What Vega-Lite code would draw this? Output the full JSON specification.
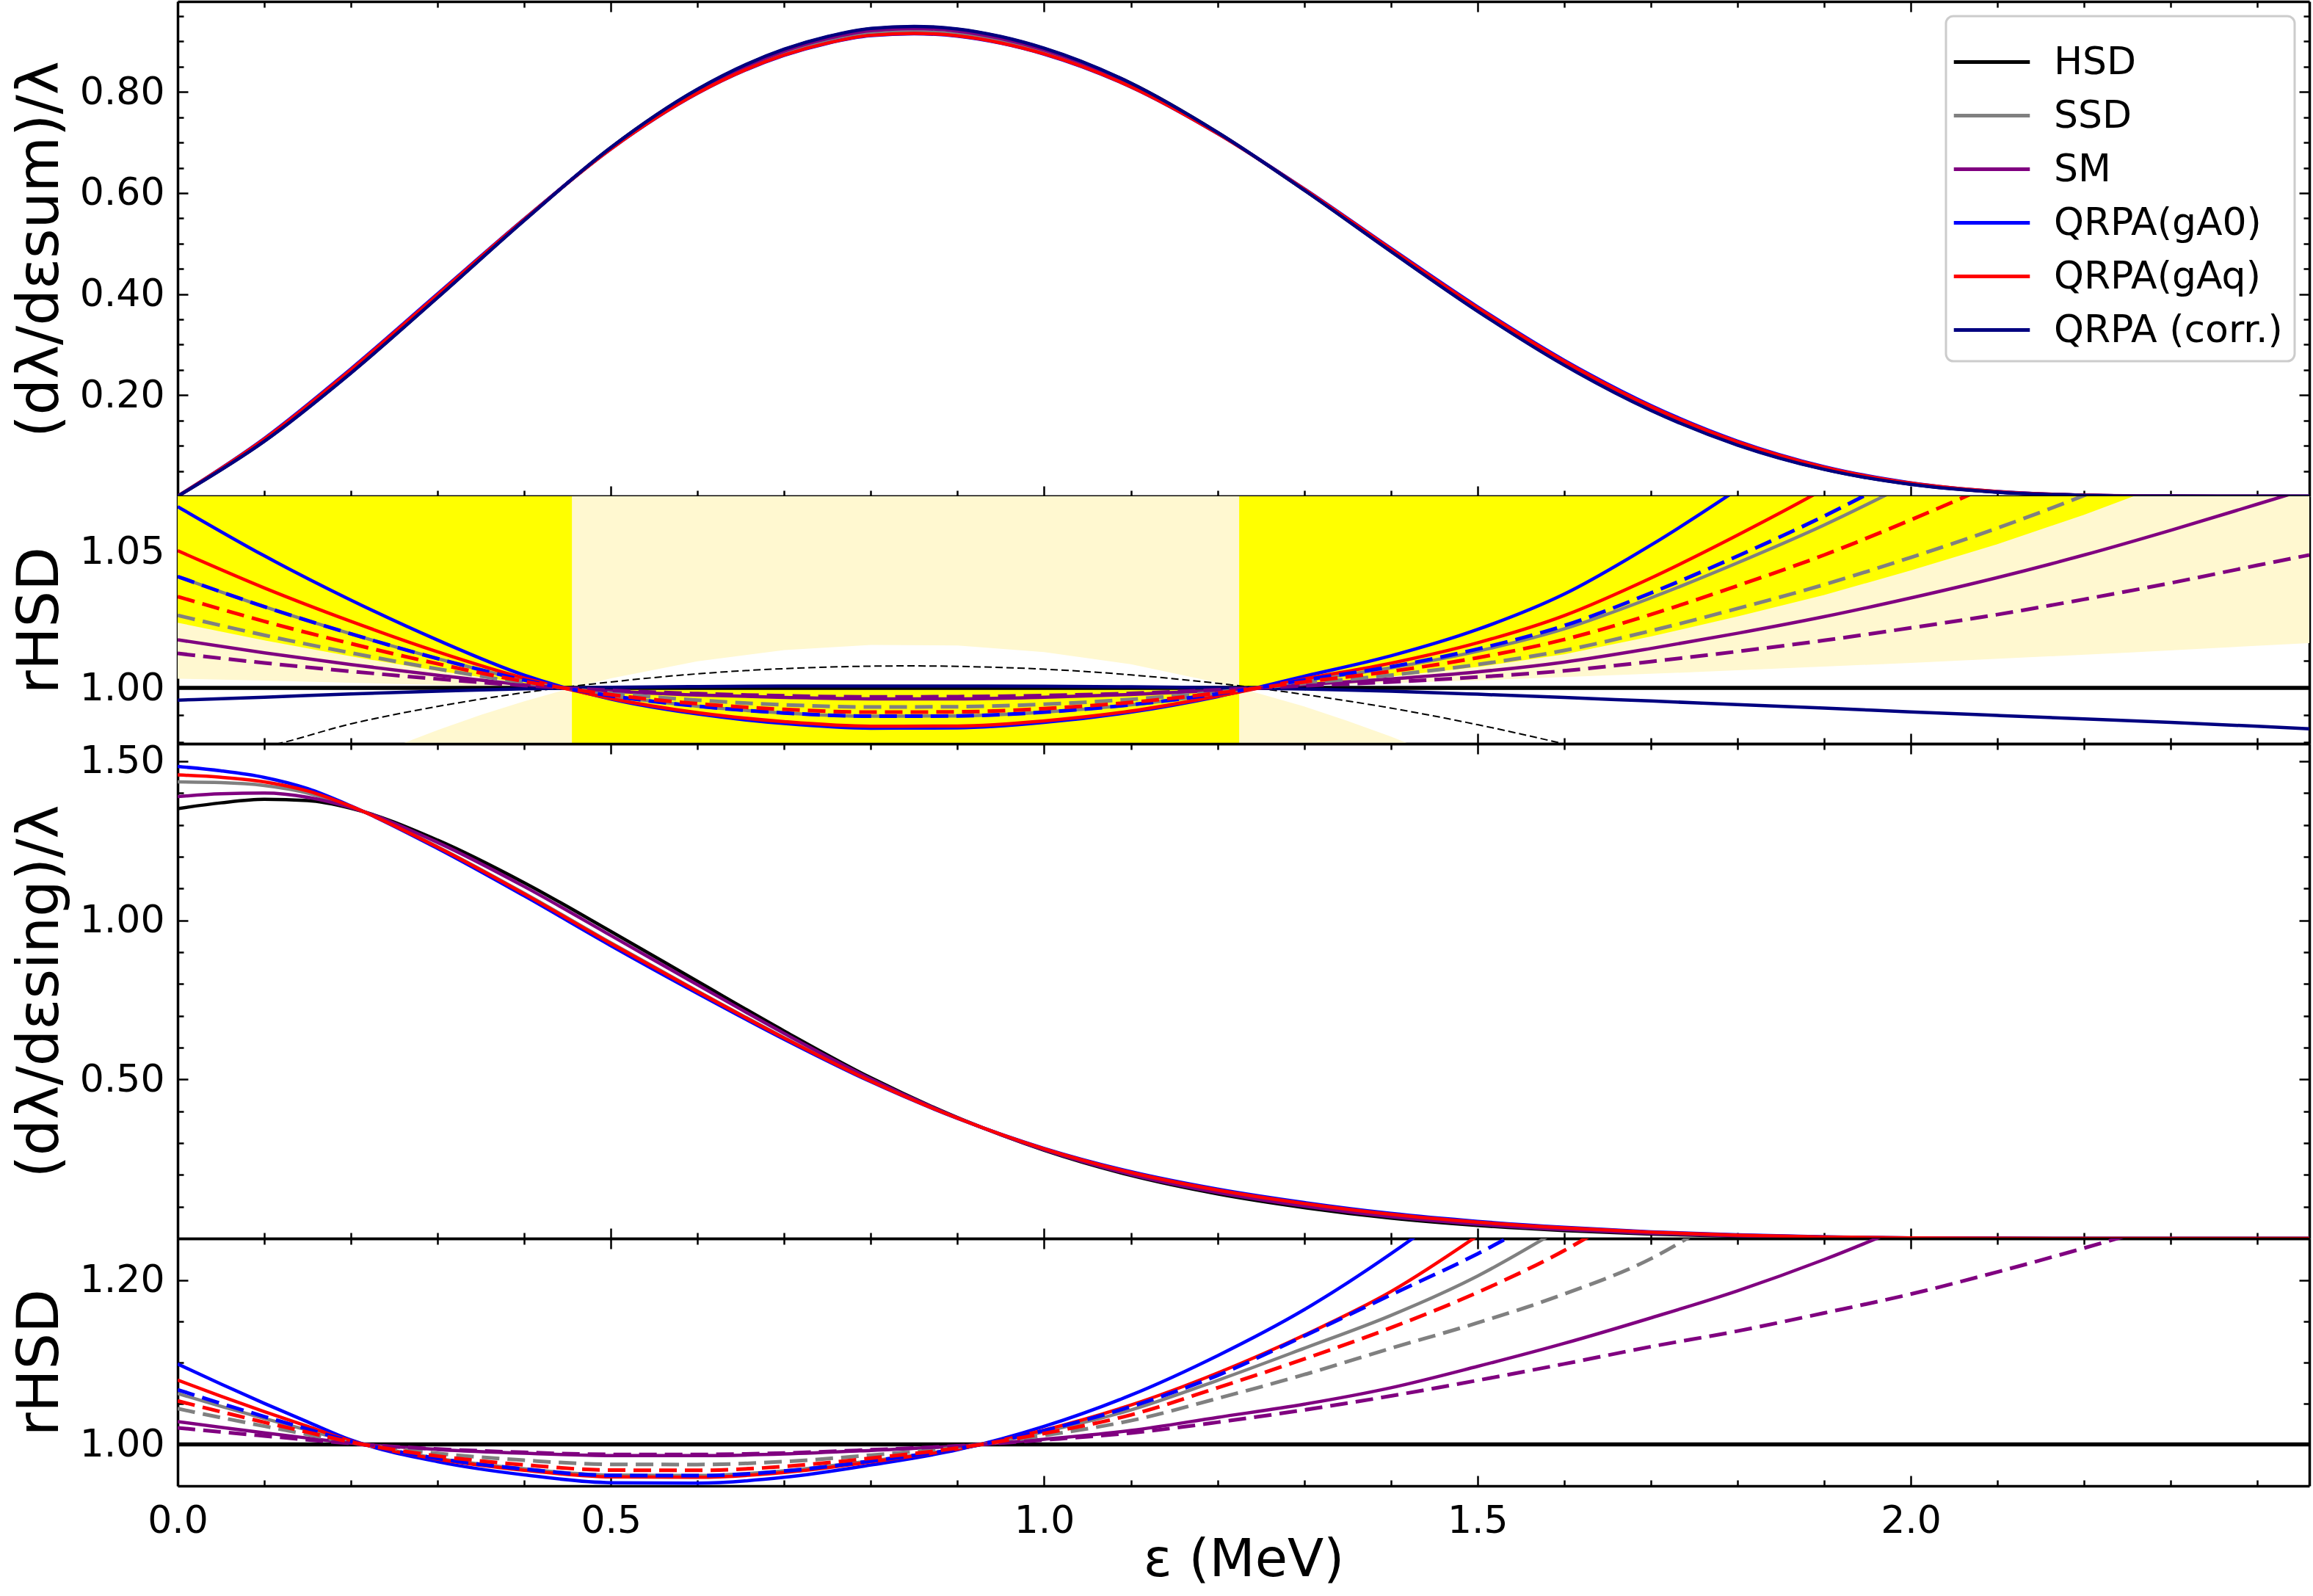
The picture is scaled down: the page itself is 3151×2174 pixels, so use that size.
{
  "$schema": "https://vega.github.io/schema/vega-lite/v6.json",
  "padding": {"left": 16, "top": 0, "right": 2, "bottom": 0},
  "background": "white",
  "datasets": {
    "sum": [
      {"x": 0, "HSD": 0, "SSD": 0, "SM": 0, "gA0": 0, "gAq": 0, "corr": 0},
      {"x": 0.1, "HSD": 0.1091, "SSD": 0.1124, "SM": 0.1105, "gA0": 0.1144, "gAq": 0.1131, "corr": 0.1087},
      {"x": 0.2, "HSD": 0.2443, "SSD": 0.2492, "SM": 0.2464, "gA0": 0.2522, "gAq": 0.2503, "corr": 0.2438},
      {"x": 0.3, "HSD": 0.3936, "SSD": 0.3979, "SM": 0.3954, "gA0": 0.4005, "gAq": 0.3988, "corr": 0.3931},
      {"x": 0.4, "HSD": 0.546, "SSD": 0.5476, "SM": 0.5467, "gA0": 0.5486, "gAq": 0.548, "corr": 0.5458},
      {"x": 0.5, "HSD": 0.69, "SSD": 0.688, "SM": 0.6892, "gA0": 0.6872, "gAq": 0.6873, "corr": 0.6901},
      {"x": 0.6, "HSD": 0.805, "SSD": 0.7996, "SM": 0.8029, "gA0": 0.7973, "gAq": 0.7977, "corr": 0.8054},
      {"x": 0.7, "HSD": 0.884, "SSD": 0.8759, "SM": 0.8809, "gA0": 0.8724, "gAq": 0.873, "corr": 0.8846},
      {"x": 0.75, "HSD": 0.909, "SSD": 0.9, "SM": 0.9055, "gA0": 0.8963, "gAq": 0.8968, "corr": 0.9096},
      {"x": 0.8, "HSD": 0.925, "SSD": 0.9154, "SM": 0.9213, "gA0": 0.9113, "gAq": 0.912, "corr": 0.9256},
      {"x": 0.85, "HSD": 0.929, "SSD": 0.9192, "SM": 0.9253, "gA0": 0.9151, "gAq": 0.9158, "corr": 0.9297},
      {"x": 0.9, "HSD": 0.924, "SSD": 0.9145, "SM": 0.9203, "gA0": 0.9104, "gAq": 0.9111, "corr": 0.9246},
      {"x": 0.95, "HSD": 0.909, "SSD": 0.9002, "SM": 0.9055, "gA0": 0.8964, "gAq": 0.897, "corr": 0.9096},
      {"x": 1.0, "HSD": 0.886, "SSD": 0.8781, "SM": 0.883, "gA0": 0.8747, "gAq": 0.8753, "corr": 0.8865},
      {"x": 1.1, "HSD": 0.8172, "SSD": 0.8121, "SM": 0.8152, "gA0": 0.8099, "gAq": 0.8103, "corr": 0.8175},
      {"x": 1.2, "HSD": 0.72, "SSD": 0.7184, "SM": 0.7194, "gA0": 0.7177, "gAq": 0.7178, "corr": 0.7201},
      {"x": 1.3, "HSD": 0.6059, "SSD": 0.6075, "SM": 0.6066, "gA0": 0.6085, "gAq": 0.6079, "corr": 0.6058},
      {"x": 1.4, "HSD": 0.485, "SSD": 0.4886, "SM": 0.4866, "gA0": 0.4907, "gAq": 0.4894, "corr": 0.4845},
      {"x": 1.5, "HSD": 0.3671, "SSD": 0.3721, "SM": 0.3693, "gA0": 0.375, "gAq": 0.3732, "corr": 0.3663},
      {"x": 1.6, "HSD": 0.2603, "SSD": 0.266, "SM": 0.2628, "gA0": 0.2693, "gAq": 0.2672, "corr": 0.2594},
      {"x": 1.7, "HSD": 0.1708, "SSD": 0.1765, "SM": 0.1733, "gA0": 0.1798, "gAq": 0.1777, "corr": 0.17},
      {"x": 1.8, "HSD": 0.1019, "SSD": 0.1066, "SM": 0.1039, "gA0": 0.1093, "gAq": 0.1076, "corr": 0.1013},
      {"x": 1.9, "HSD": 0.0536, "SSD": 0.0568, "SM": 0.055, "gA0": 0.0587, "gAq": 0.0575, "corr": 0.0532},
      {"x": 2.0, "HSD": 0.0238, "SSD": 0.0256, "SM": 0.0246, "gA0": 0.0267, "gAq": 0.026, "corr": 0.0236},
      {"x": 2.1, "HSD": 0.0082, "SSD": 0.009, "SM": 0.0085, "gA0": 0.0094, "gAq": 0.0091, "corr": 0.0081},
      {"x": 2.2, "HSD": 0.0019, "SSD": 0.0021, "SM": 0.002, "gA0": 0.0022, "gAq": 0.0022, "corr": 0.0019},
      {"x": 2.3, "HSD": 0.0002, "SSD": 0.0002, "SM": 0.0002, "gA0": 0.0002, "gAq": 0.0002, "corr": 0.0002},
      {"x": 2.4, "HSD": 0, "SSD": 0, "SM": 0, "gA0": 0, "gAq": 0, "corr": 0},
      {"x": 2.46, "HSD": 0, "SSD": 0, "SM": 0, "gA0": 0, "gAq": 0, "corr": 0}
    ],
    "sumratio": [
      {"x": 0, "HSD": 1, "SSD": 1.041, "SM": 1.0177, "gA0": 1.0667, "gAq": 1.0505, "corr": 0.9955},
      {"x": 0.1, "HSD": 1, "SSD": 1.0299, "SM": 1.0129, "gA0": 1.0486, "gAq": 1.0368, "corr": 0.9966},
      {"x": 0.2, "HSD": 1, "SSD": 1.0199, "SM": 1.0086, "gA0": 1.0323, "gAq": 1.0245, "corr": 0.9978},
      {"x": 0.3, "HSD": 1, "SSD": 1.0108, "SM": 1.0047, "gA0": 1.0176, "gAq": 1.0133, "corr": 0.9988},
      {"x": 0.4, "HSD": 1, "SSD": 1.0029, "SM": 1.0012, "gA0": 1.0047, "gAq": 1.0036, "corr": 0.9997},
      {"x": 0.5, "HSD": 1, "SSD": 0.9971, "SM": 0.9989, "gA0": 0.9959, "gAq": 0.9961, "corr": 1.0002},
      {"x": 0.6, "HSD": 1, "SSD": 0.9933, "SM": 0.9974, "gA0": 0.9904, "gAq": 0.9909, "corr": 1.0005},
      {"x": 0.7, "HSD": 1, "SSD": 0.9908, "SM": 0.9965, "gA0": 0.9869, "gAq": 0.9876, "corr": 1.0007},
      {"x": 0.8, "HSD": 1, "SSD": 0.9896, "SM": 0.996, "gA0": 0.9852, "gAq": 0.9859, "corr": 1.0007},
      {"x": 0.9, "HSD": 1, "SSD": 0.9897, "SM": 0.996, "gA0": 0.9853, "gAq": 0.986, "corr": 1.0007},
      {"x": 1.0, "HSD": 1, "SSD": 0.9911, "SM": 0.9966, "gA0": 0.9873, "gAq": 0.9879, "corr": 1.0006},
      {"x": 1.1, "HSD": 1, "SSD": 0.9938, "SM": 0.9976, "gA0": 0.9911, "gAq": 0.9915, "corr": 1.0004},
      {"x": 1.2, "HSD": 1, "SSD": 0.9978, "SM": 0.9991, "gA0": 0.9968, "gAq": 0.997, "corr": 1.0001},
      {"x": 1.3, "HSD": 1, "SSD": 1.0027, "SM": 1.0012, "gA0": 1.0043, "gAq": 1.0033, "corr": 0.9996},
      {"x": 1.4, "HSD": 1, "SSD": 1.0074, "SM": 1.0033, "gA0": 1.0118, "gAq": 1.0091, "corr": 0.9988},
      {"x": 1.5, "HSD": 1, "SSD": 1.0135, "SM": 1.0059, "gA0": 1.0215, "gAq": 1.0166, "corr": 0.9977},
      {"x": 1.6, "HSD": 1, "SSD": 1.0217, "SM": 1.0095, "gA0": 1.0345, "gAq": 1.0266, "corr": 0.9965},
      {"x": 1.7, "HSD": 1, "SSD": 1.0331, "SM": 1.0145, "gA0": 1.0525, "gAq": 1.0404, "corr": 0.9952},
      {"x": 1.8, "HSD": 1, "SSD": 1.046, "SM": 1.0201, "gA0": 1.073, "gAq": 1.0562, "corr": 0.9939},
      {"x": 1.9, "HSD": 1, "SSD": 1.0599, "SM": 1.0262, "gA0": 1.095, "gAq": 1.0732, "corr": 0.9926},
      {"x": 2.0, "HSD": 1, "SSD": 1.0756, "SM": 1.0331, "gA0": 1.12, "gAq": 1.0924, "corr": 0.9912},
      {"x": 2.1, "HSD": 1, "SSD": 1.0926, "SM": 1.0406, "gA0": 1.147, "gAq": 1.1132, "corr": 0.9899},
      {"x": 2.2, "HSD": 1, "SSD": 1.1115, "SM": 1.0489, "gA0": 1.177, "gAq": 1.1363, "corr": 0.9886},
      {"x": 2.3, "HSD": 1, "SSD": 1.1323, "SM": 1.058, "gA0": 1.21, "gAq": 1.1617, "corr": 0.9873},
      {"x": 2.4, "HSD": 1, "SSD": 1.1544, "SM": 1.0676, "gA0": 1.245, "gAq": 1.1887, "corr": 0.9859},
      {"x": 2.46, "HSD": 1, "SSD": 1.1676, "SM": 1.0734, "gA0": 1.266, "gAq": 1.2048, "corr": 0.985}
    ],
    "sumdash": [
      {"x": 0, "SSD": 1.0267, "SM": 1.0127, "gA0": 1.041, "gAq": 1.0336},
      {"x": 0.1, "SSD": 1.0194, "SM": 1.0092, "gA0": 1.0299, "gAq": 1.0245},
      {"x": 0.2, "SSD": 1.0129, "SM": 1.0061, "gA0": 1.0199, "gAq": 1.0163},
      {"x": 0.3, "SSD": 1.007, "SM": 1.0033, "gA0": 1.0108, "gAq": 1.0089},
      {"x": 0.4, "SSD": 1.0019, "SM": 1.0009, "gA0": 1.0029, "gAq": 1.0024},
      {"x": 0.5, "SSD": 0.9981, "SM": 0.9991, "gA0": 0.9971, "gAq": 0.9975},
      {"x": 0.6, "SSD": 0.9955, "SM": 0.9979, "gA0": 0.9933, "gAq": 0.9942},
      {"x": 0.7, "SSD": 0.9938, "SM": 0.9971, "gA0": 0.9908, "gAq": 0.9921},
      {"x": 0.8, "SSD": 0.993, "SM": 0.9967, "gA0": 0.9896, "gAq": 0.9911},
      {"x": 0.9, "SSD": 0.9931, "SM": 0.9968, "gA0": 0.9897, "gAq": 0.9912},
      {"x": 1.0, "SSD": 0.994, "SM": 0.9972, "gA0": 0.9911, "gAq": 0.9924},
      {"x": 1.1, "SSD": 0.9958, "SM": 0.998, "gA0": 0.9938, "gAq": 0.9947},
      {"x": 1.2, "SSD": 0.9985, "SM": 0.9993, "gA0": 0.9978, "gAq": 0.9981},
      {"x": 1.3, "SSD": 1.0017, "SM": 1.0008, "gA0": 1.0029, "gAq": 1.0022},
      {"x": 1.4, "SSD": 1.0047, "SM": 1.0022, "gA0": 1.0078, "gAq": 1.0061},
      {"x": 1.5, "SSD": 1.0086, "SM": 1.004, "gA0": 1.0143, "gAq": 1.0111},
      {"x": 1.6, "SSD": 1.0138, "SM": 1.0063, "gA0": 1.0229, "gAq": 1.0178},
      {"x": 1.7, "SSD": 1.021, "SM": 1.0097, "gA0": 1.0349, "gAq": 1.027},
      {"x": 1.8, "SSD": 1.0292, "SM": 1.0134, "gA0": 1.0485, "gAq": 1.0376},
      {"x": 1.9, "SSD": 1.038, "SM": 1.0175, "gA0": 1.0632, "gAq": 1.0489},
      {"x": 2.0, "SSD": 1.048, "SM": 1.0221, "gA0": 1.0798, "gAq": 1.0618},
      {"x": 2.1, "SSD": 1.0588, "SM": 1.027, "gA0": 1.0978, "gAq": 1.0757},
      {"x": 2.2, "SSD": 1.0708, "SM": 1.0326, "gA0": 1.118, "gAq": 1.0912},
      {"x": 2.3, "SSD": 1.084, "SM": 1.0386, "gA0": 1.14, "gAq": 1.108},
      {"x": 2.4, "SSD": 1.098, "SM": 1.0451, "gA0": 1.163, "gAq": 1.126},
      {"x": 2.46, "SSD": 1.106, "SM": 1.0489, "gA0": 1.177, "gAq": 1.137}
    ],
    "guide": [
      {"x": 0.05, "r": 0.9767}, {"x": 0.1, "r": 0.9785}, {"x": 0.2, "r": 0.9868},
      {"x": 0.3, "r": 0.9932}, {"x": 0.44, "r": 1.0}, {"x": 0.5, "r": 1.0022},
      {"x": 0.6, "r": 1.0052}, {"x": 0.7, "r": 1.0071}, {"x": 0.84, "r": 1.0081},
      {"x": 1.0, "r": 1.0069}, {"x": 1.1, "r": 1.0048}, {"x": 1.2, "r": 1.0017},
      {"x": 1.245, "r": 1.0}, {"x": 1.3, "r": 0.9976}, {"x": 1.4, "r": 0.9926},
      {"x": 1.5, "r": 0.9865}, {"x": 1.6, "r": 0.9794}, {"x": 1.65, "r": 0.9755}
    ],
    "bands": [
      {"band": "pu", "shade": "pale", "x": 0, "lo": 1.0034, "hi": 1.1},
      {"band": "pu", "shade": "pale", "x": 0.1, "lo": 1.0027, "hi": 1.1},
      {"band": "pu", "shade": "pale", "x": 0.2, "lo": 1.0019, "hi": 1.1},
      {"band": "pu", "shade": "pale", "x": 0.3, "lo": 1.0011, "hi": 1.1},
      {"band": "pu", "shade": "pale", "x": 0.4, "lo": 1.0004, "hi": 1.1},
      {"band": "pu", "shade": "pale", "x": 0.455, "lo": 1.0, "hi": 1.1},
      {"band": "pu", "shade": "pale", "x": 0.5, "lo": 1.0035, "hi": 1.1},
      {"band": "pu", "shade": "pale", "x": 0.6, "lo": 1.0098, "hi": 1.1},
      {"band": "pu", "shade": "pale", "x": 0.7, "lo": 1.0139, "hi": 1.1},
      {"band": "pu", "shade": "pale", "x": 0.8, "lo": 1.0158, "hi": 1.1},
      {"band": "pu", "shade": "pale", "x": 0.9, "lo": 1.0156, "hi": 1.1},
      {"band": "pu", "shade": "pale", "x": 1.0, "lo": 1.0132, "hi": 1.1},
      {"band": "pu", "shade": "pale", "x": 1.1, "lo": 1.0087, "hi": 1.1},
      {"band": "pu", "shade": "pale", "x": 1.2, "lo": 1.002, "hi": 1.1},
      {"band": "pu", "shade": "pale", "x": 1.225, "lo": 1.0, "hi": 1.1},
      {"band": "pu", "shade": "pale", "x": 1.3, "lo": 1.0008, "hi": 1.1},
      {"band": "pu", "shade": "pale", "x": 1.5, "lo": 1.0028, "hi": 1.1},
      {"band": "pu", "shade": "pale", "x": 1.75, "lo": 1.0058, "hi": 1.1},
      {"band": "pu", "shade": "pale", "x": 2.0, "lo": 1.0092, "hi": 1.1},
      {"band": "pu", "shade": "pale", "x": 2.25, "lo": 1.013, "hi": 1.1},
      {"band": "pu", "shade": "pale", "x": 2.46, "lo": 1.0165, "hi": 1.1},
      {"band": "pl", "shade": "pale", "x": 0, "lo": 0.9, "hi": 0.94},
      {"band": "pl", "shade": "pale", "x": 0.1, "lo": 0.9, "hi": 0.9569},
      {"band": "pl", "shade": "pale", "x": 0.2, "lo": 0.9, "hi": 0.9718},
      {"band": "pl", "shade": "pale", "x": 0.25, "lo": 0.9, "hi": 0.9784},
      {"band": "pl", "shade": "pale", "x": 0.3, "lo": 0.9, "hi": 0.9845},
      {"band": "pl", "shade": "pale", "x": 0.35, "lo": 0.9, "hi": 0.9901},
      {"band": "pl", "shade": "pale", "x": 0.4, "lo": 0.9, "hi": 0.9951},
      {"band": "pl", "shade": "pale", "x": 0.455, "lo": 0.9, "hi": 1.0},
      {"band": "pl", "shade": "pale", "x": 0.5, "lo": 0.9, "hi": 0.999},
      {"band": "pl", "shade": "pale", "x": 1.2, "lo": 0.9, "hi": 0.999},
      {"band": "pl", "shade": "pale", "x": 1.225, "lo": 0.9, "hi": 1.0},
      {"band": "pl", "shade": "pale", "x": 1.3, "lo": 0.9, "hi": 0.9932},
      {"band": "pl", "shade": "pale", "x": 1.35, "lo": 0.9, "hi": 0.9879},
      {"band": "pl", "shade": "pale", "x": 1.4, "lo": 0.9, "hi": 0.9821},
      {"band": "pl", "shade": "pale", "x": 1.45, "lo": 0.9, "hi": 0.9758},
      {"band": "pl", "shade": "pale", "x": 1.5, "lo": 0.9, "hi": 0.969},
      {"band": "pl", "shade": "pale", "x": 1.6, "lo": 0.9, "hi": 0.9536},
      {"band": "pl", "shade": "pale", "x": 2.46, "lo": 0.9, "hi": 0.9},
      {"band": "yl", "shade": "bright", "x": 0, "lo": 1.024, "hi": 1.1},
      {"band": "yl", "shade": "bright", "x": 0.1, "lo": 1.0175, "hi": 1.1},
      {"band": "yl", "shade": "bright", "x": 0.2, "lo": 1.0116, "hi": 1.1},
      {"band": "yl", "shade": "bright", "x": 0.3, "lo": 1.0063, "hi": 1.1},
      {"band": "yl", "shade": "bright", "x": 0.4, "lo": 1.0017, "hi": 1.1},
      {"band": "yl", "shade": "bright", "x": 0.455, "lo": 1.0, "hi": 1.1},
      {"band": "ym", "shade": "bright", "x": 0.455, "lo": 0.9, "hi": 1.0},
      {"band": "ym", "shade": "bright", "x": 1.225, "lo": 0.9, "hi": 1.0},
      {"band": "yr", "shade": "bright", "x": 1.225, "lo": 1.0, "hi": 1.1},
      {"band": "yr", "shade": "bright", "x": 1.3, "lo": 1.0015, "hi": 1.1},
      {"band": "yr", "shade": "bright", "x": 1.4, "lo": 1.0042, "hi": 1.1},
      {"band": "yr", "shade": "bright", "x": 1.5, "lo": 1.0077, "hi": 1.1},
      {"band": "yr", "shade": "bright", "x": 1.6, "lo": 1.0124, "hi": 1.1},
      {"band": "yr", "shade": "bright", "x": 1.7, "lo": 1.0189, "hi": 1.1},
      {"band": "yr", "shade": "bright", "x": 1.8, "lo": 1.0263, "hi": 1.1},
      {"band": "yr", "shade": "bright", "x": 1.9, "lo": 1.0342, "hi": 1.1},
      {"band": "yr", "shade": "bright", "x": 2.0, "lo": 1.0432, "hi": 1.1},
      {"band": "yr", "shade": "bright", "x": 2.1, "lo": 1.0529, "hi": 1.1},
      {"band": "yr", "shade": "bright", "x": 2.2, "lo": 1.0637, "hi": 1.1},
      {"band": "yr", "shade": "bright", "x": 2.3, "lo": 1.0756, "hi": 1.1},
      {"band": "yr", "shade": "bright", "x": 2.46, "lo": 1.096, "hi": 1.1}
    ],
    "single": [
      {"x": 0, "HSD": 1.351, "SSD": 1.4348, "SM": 1.3886, "gA0": 1.4834, "gAq": 1.4569},
      {"x": 0.05, "HSD": 1.369, "SSD": 1.4327, "SM": 1.3976, "gA0": 1.4696, "gAq": 1.4495},
      {"x": 0.1, "HSD": 1.38, "SSD": 1.4237, "SM": 1.3996, "gA0": 1.449, "gAq": 1.4352},
      {"x": 0.15, "HSD": 1.376, "SSD": 1.3999, "SM": 1.3867, "gA0": 1.4138, "gAq": 1.4063},
      {"x": 0.2, "HSD": 1.352, "SSD": 1.3567, "SM": 1.3542, "gA0": 1.3594, "gAq": 1.3579},
      {"x": 0.3, "HSD": 1.252, "SSD": 1.231, "SM": 1.2444, "gA0": 1.2257, "gAq": 1.2297},
      {"x": 0.4, "HSD": 1.118, "SSD": 1.0849, "SM": 1.106, "gA0": 1.0766, "gAq": 1.0829},
      {"x": 0.5, "HSD": 0.965, "SSD": 0.9291, "SM": 0.952, "gA0": 0.9201, "gAq": 0.9269},
      {"x": 0.6, "HSD": 0.808, "SSD": 0.7776, "SM": 0.797, "gA0": 0.77, "gAq": 0.7757},
      {"x": 0.7, "HSD": 0.652, "SSD": 0.6311, "SM": 0.6444, "gA0": 0.6259, "gAq": 0.6298},
      {"x": 0.8, "HSD": 0.505, "SSD": 0.4949, "SM": 0.5014, "gA0": 0.4924, "gAq": 0.4943},
      {"x": 0.9, "HSD": 0.38, "SSD": 0.378, "SM": 0.3793, "gA0": 0.3775, "gAq": 0.3779},
      {"x": 1.0, "HSD": 0.277, "SSD": 0.2813, "SM": 0.2788, "gA0": 0.2831, "gAq": 0.2819},
      {"x": 1.1, "HSD": 0.198, "SSD": 0.2063, "SM": 0.2014, "gA0": 0.2099, "gAq": 0.2075},
      {"x": 1.2, "HSD": 0.14, "SSD": 0.1509, "SM": 0.1446, "gA0": 0.1551, "gAq": 0.1522},
      {"x": 1.3, "HSD": 0.097, "SSD": 0.1083, "SM": 0.1018, "gA0": 0.1129, "gAq": 0.1099},
      {"x": 1.4, "HSD": 0.064, "SSD": 0.074, "SM": 0.0684, "gA0": 0.0788, "gAq": 0.0759},
      {"x": 1.5, "HSD": 0.041, "SSD": 0.0494, "SM": 0.0449, "gA0": 0.0537, "gAq": 0.0514},
      {"x": 1.6, "HSD": 0.025, "SSD": 0.0316, "SM": 0.0281, "gA0": 0.035, "gAq": 0.0333},
      {"x": 1.7, "HSD": 0.014, "SSD": 0.0186, "SM": 0.0162, "gA0": 0.021, "gAq": 0.0199},
      {"x": 1.8, "HSD": 0.007, "SSD": 0.0098, "SM": 0.0083, "gA0": 0.0113, "gAq": 0.0106},
      {"x": 1.9, "HSD": 0.003, "SSD": 0.0044, "SM": 0.0037, "gA0": 0.0053, "gAq": 0.0049},
      {"x": 2.0, "HSD": 0.001, "SSD": 0.0015, "SM": 0.0013, "gA0": 0.0019, "gAq": 0.0017},
      {"x": 2.1, "HSD": 0.0003, "SSD": 0.0004, "SM": 0.0004, "gA0": 0.0005, "gAq": 0.0005},
      {"x": 2.2, "HSD": 0.0001, "SSD": 0.0001, "SM": 0.0001, "gA0": 0.0001, "gAq": 0.0001},
      {"x": 2.3, "HSD": 0, "SSD": 0, "SM": 0, "gA0": 0, "gAq": 0},
      {"x": 2.46, "HSD": 0, "SSD": 0, "SM": 0, "gA0": 0, "gAq": 0}
    ],
    "singleratio": [
      {"x": 0, "HSD": 1, "SSD": 1.062, "SM": 1.0278, "gA0": 1.098, "gAq": 1.0784},
      {"x": 0.05, "HSD": 1, "SSD": 1.0465, "SM": 1.0209, "gA0": 1.0735, "gAq": 1.0588},
      {"x": 0.1, "HSD": 1, "SSD": 1.0317, "SM": 1.0142, "gA0": 1.05, "gAq": 1.04},
      {"x": 0.15, "HSD": 1, "SSD": 1.0174, "SM": 1.0078, "gA0": 1.0275, "gAq": 1.022},
      {"x": 0.2, "HSD": 1, "SSD": 1.0035, "SM": 1.0016, "gA0": 1.0055, "gAq": 1.0044},
      {"x": 0.3, "HSD": 1, "SSD": 0.9832, "SM": 0.9939, "gA0": 0.979, "gAq": 0.9822},
      {"x": 0.4, "HSD": 1, "SSD": 0.9704, "SM": 0.9893, "gA0": 0.963, "gAq": 0.9686},
      {"x": 0.5, "HSD": 1, "SSD": 0.9628, "SM": 0.9865, "gA0": 0.9535, "gAq": 0.9605},
      {"x": 0.6, "HSD": 1, "SSD": 0.9624, "SM": 0.9864, "gA0": 0.953, "gAq": 0.96},
      {"x": 0.7, "HSD": 1, "SSD": 0.968, "SM": 0.9884, "gA0": 0.96, "gAq": 0.966},
      {"x": 0.8, "HSD": 1, "SSD": 0.98, "SM": 0.9928, "gA0": 0.975, "gAq": 0.9788},
      {"x": 0.9, "HSD": 1, "SSD": 0.9948, "SM": 0.9981, "gA0": 0.9935, "gAq": 0.9945},
      {"x": 1.0, "HSD": 1, "SSD": 1.0155, "SM": 1.0064, "gA0": 1.022, "gAq": 1.0176},
      {"x": 1.1, "HSD": 1, "SSD": 1.042, "SM": 1.017, "gA0": 1.06, "gAq": 1.048},
      {"x": 1.2, "HSD": 1, "SSD": 1.078, "SM": 1.033, "gA0": 1.108, "gAq": 1.087},
      {"x": 1.3, "HSD": 1, "SSD": 1.117, "SM": 1.049, "gA0": 1.164, "gAq": 1.133},
      {"x": 1.4, "HSD": 1, "SSD": 1.157, "SM": 1.069, "gA0": 1.232, "gAq": 1.186},
      {"x": 1.5, "HSD": 1, "SSD": 1.205, "SM": 1.095, "gA0": 1.31, "gAq": 1.254},
      {"x": 1.6, "HSD": 1, "SSD": 1.265, "SM": 1.123, "gA0": 1.4, "gAq": 1.33},
      {"x": 1.7, "HSD": 1, "SSD": 1.33, "SM": 1.154},
      {"x": 1.8, "HSD": 1, "SM": 1.187},
      {"x": 1.9, "HSD": 1, "SM": 1.225},
      {"x": 2.0, "HSD": 1, "SM": 1.268},
      {"x": 2.46, "HSD": 1}
    ],
    "singledash": [
      {"x": 0, "SSD": 1.0436, "SM": 1.0203, "gA0": 1.0666, "gAq": 1.053},
      {"x": 0.05, "SSD": 1.0327, "SM": 1.0152, "gA0": 1.05, "gAq": 1.0398},
      {"x": 0.1, "SSD": 1.0223, "SM": 1.0104, "gA0": 1.034, "gAq": 1.027},
      {"x": 0.15, "SSD": 1.0122, "SM": 1.0057, "gA0": 1.0187, "gAq": 1.0149},
      {"x": 0.2, "SSD": 1.0024, "SM": 1.0011, "gA0": 1.0037, "gAq": 1.003},
      {"x": 0.3, "SSD": 0.9891, "SM": 0.9945, "gA0": 0.983, "gAq": 0.9859},
      {"x": 0.4, "SSD": 0.9808, "SM": 0.9904, "gA0": 0.97, "gAq": 0.9752},
      {"x": 0.5, "SSD": 0.9758, "SM": 0.9879, "gA0": 0.9623, "gAq": 0.9688},
      {"x": 0.6, "SSD": 0.9756, "SM": 0.9878, "gA0": 0.962, "gAq": 0.9685},
      {"x": 0.7, "SSD": 0.9792, "SM": 0.9896, "gA0": 0.9676, "gAq": 0.9732},
      {"x": 0.8, "SSD": 0.987, "SM": 0.9935, "gA0": 0.9798, "gAq": 0.9833},
      {"x": 0.9, "SSD": 0.9966, "SM": 0.9983, "gA0": 0.9947, "gAq": 0.9956},
      {"x": 1.0, "SSD": 1.011, "SM": 1.0055, "gA0": 1.017, "gAq": 1.0135},
      {"x": 1.1, "SSD": 1.029, "SM": 1.014, "gA0": 1.046, "gAq": 1.036},
      {"x": 1.2, "SSD": 1.056, "SM": 1.027, "gA0": 1.084, "gAq": 1.069},
      {"x": 1.3, "SSD": 1.085, "SM": 1.042, "gA0": 1.132, "gAq": 1.104},
      {"x": 1.4, "SSD": 1.117, "SM": 1.059, "gA0": 1.182, "gAq": 1.142},
      {"x": 1.5, "SSD": 1.148, "SM": 1.078, "gA0": 1.232, "gAq": 1.185},
      {"x": 1.6, "SSD": 1.183, "SM": 1.098, "gA0": 1.29, "gAq": 1.236},
      {"x": 1.7, "SSD": 1.226, "SM": 1.119, "gAq": 1.3},
      {"x": 1.8, "SSD": 1.29, "SM": 1.138},
      {"x": 1.9, "SM": 1.16},
      {"x": 2.0, "SM": 1.183},
      {"x": 2.1, "SM": 1.21},
      {"x": 2.2, "SM": 1.239},
      {"x": 2.3, "SM": 1.27}
    ]
  },
  "vconcat": [
    {
      "width": 2904,
      "height": 674,
      "data": {"name": "sum"},
      "transform": [{"fold": ["HSD", "SSD", "SM", "gA0", "gAq", "corr"], "as": ["model", "y"]}],
      "resolve": {"axis": {"x": "independent", "y": "independent"}},
      "layer": [
        {
          "mark": {"type": "line", "clip": true, "interpolate": "monotone", "strokeWidth": 4.5},
          "encoding": {
            "x": {"field": "x", "type": "quantitative", "scale": {"domain": [0, 2.46], "nice": false, "zero": false},
              "axis": {"orient": "bottom", "values": [0, 0.1, 0.2, 0.3, 0.4, 0.5, 0.6, 0.7, 0.8, 0.9, 1, 1.1, 1.2, 1.3, 1.4, 1.5, 1.6, 1.7, 1.8, 1.9, 2, 2.1, 2.2, 2.3, 2.4], "labels": false, "title": null,
                "tickSize": {"expr": "indexof([0,0.5,1,1.5,2], datum.value) >= 0 ? -14 : -8"}}},
            "y": {"field": "y", "type": "quantitative", "scale": {"domain": [0, 0.979], "nice": false},
              "axis": {"orient": "left", "values": [0.05, 0.1, 0.15, 0.2, 0.25, 0.3, 0.35, 0.4, 0.45, 0.5, 0.55, 0.6, 0.65, 0.7, 0.75, 0.8, 0.85, 0.9, 0.95],
                "labelExpr": "indexof([0.2,0.4,0.6,0.8], datum.value) >= 0 ? format(datum.value, '.2f') : ''",
                "labelFontSize": {"expr": "indexof([0.2,0.4,0.6,0.8], datum.value) >= 0 ? 52 : 1"},
                "labelPadding": 32, "title": "(dλ/dεsum)/λ", "titlePadding": 14,
                "tickSize": {"expr": "indexof([0.2,0.4,0.6,0.8], datum.value) >= 0 ? -14 : -8"}}},
            "color": {"field": "model", "type": "nominal",
              "scale": {"domain": ["HSD", "SSD", "SM", "gA0", "gAq", "corr"], "range": ["#000000", "#808080", "#800080", "#0000ff", "#ff0000", "#000080"]},
              "legend": {"orient": "top-right", "offset": 20, "title": null,
                "labelExpr": "{'HSD': 'HSD', 'SSD': 'SSD', 'SM': 'SM', 'gA0': 'QRPA(gA0)', 'gAq': 'QRPA(gAq)', 'corr': 'QRPA (corr.)'}[datum.label]"}}
          }
        },
        {
          "mark": {"type": "point", "opacity": 0, "size": 0},
          "encoding": {
            "x": {"field": "x", "type": "quantitative",
              "axis": {"orient": "top", "values": [0, 0.1, 0.2, 0.3, 0.4, 0.5, 0.6, 0.7, 0.8, 0.9, 1, 1.1, 1.2, 1.3, 1.4, 1.5, 1.6, 1.7, 1.8, 1.9, 2, 2.1, 2.2, 2.3, 2.4], "labels": false, "title": null,
                "tickSize": {"expr": "indexof([0,0.5,1,1.5,2], datum.value) >= 0 ? -14 : -8"}}},
            "y": {"field": "y", "type": "quantitative",
              "axis": {"orient": "right", "values": [0.05, 0.1, 0.15, 0.2, 0.25, 0.3, 0.35, 0.4, 0.45, 0.5, 0.55, 0.6, 0.65, 0.7, 0.75, 0.8, 0.85, 0.9, 0.95], "labels": false, "title": null,
                "tickSize": {"expr": "indexof([0.2,0.4,0.6,0.8], datum.value) >= 0 ? -14 : -8"}}}
          }
        }
      ]
    },
    {
      "width": 2904,
      "height": 337,
      "resolve": {"axis": {"x": "independent", "y": "independent"}},
      "layer": [
        {
          "data": {"name": "bands"},
          "transform": [{"filter": "datum.shade == 'pale'"}],
          "mark": {"type": "area", "clip": true, "color": "#fff8d0"},
          "encoding": {
            "x": {"field": "x", "type": "quantitative", "scale": {"domain": [0, 2.46], "nice": false, "zero": false},
              "axis": {"orient": "bottom", "values": [0, 0.1, 0.2, 0.3, 0.4, 0.5, 0.6, 0.7, 0.8, 0.9, 1, 1.1, 1.2, 1.3, 1.4, 1.5, 1.6, 1.7, 1.8, 1.9, 2, 2.1, 2.2, 2.3, 2.4], "labels": false, "title": null,
                "tickSize": {"expr": "indexof([0,0.5,1,1.5,2], datum.value) >= 0 ? -14 : -8"}}},
            "y": {"field": "lo", "type": "quantitative", "scale": {"domain": [0.9795, 1.0705], "nice": false, "zero": false},
              "axis": {"orient": "left", "values": [0.98, 0.99, 1, 1.01, 1.02, 1.03, 1.04, 1.05, 1.06, 1.07],
                "labelExpr": "indexof([1,1.05], datum.value) >= 0 ? format(datum.value, '.2f') : ''",
                "labelFontSize": {"expr": "indexof([1,1.05], datum.value) >= 0 ? 52 : 1"},
                "labelPadding": 32, "title": "rHSD", "titlePadding": 14,
                "tickSize": {"expr": "indexof([1,1.05], datum.value) >= 0 ? -14 : -8"}}},
            "y2": {"field": "hi"},
            "detail": {"field": "band"}
          }
        },
        {
          "data": {"name": "bands"},
          "transform": [{"filter": "datum.shade == 'bright'"}],
          "mark": {"type": "area", "clip": true, "color": "#ffff00"},
          "encoding": {
            "x": {"field": "x", "type": "quantitative",
              "axis": {"orient": "top", "values": [0, 0.1, 0.2, 0.3, 0.4, 0.5, 0.6, 0.7, 0.8, 0.9, 1, 1.1, 1.2, 1.3, 1.4, 1.5, 1.6, 1.7, 1.8, 1.9, 2, 2.1, 2.2, 2.3, 2.4], "labels": false, "title": null,
                "tickSize": {"expr": "indexof([0,0.5,1,1.5,2], datum.value) >= 0 ? -14 : -8"}}},
            "y": {"field": "lo", "type": "quantitative",
              "axis": {"orient": "right", "values": [0.98, 0.99, 1, 1.01, 1.02, 1.03, 1.04, 1.05, 1.06, 1.07], "labels": false, "title": null,
                "tickSize": {"expr": "indexof([1,1.05], datum.value) >= 0 ? -14 : -8"}}},
            "y2": {"field": "hi"},
            "detail": {"field": "band"}
          }
        },
        {
          "data": {"name": "guide"},
          "mark": {"type": "line", "clip": true, "interpolate": "monotone", "color": "black", "strokeWidth": 2, "strokeDash": [10, 5]},
          "encoding": {
            "x": {"field": "x", "type": "quantitative", "axis": null},
            "y": {"field": "r", "type": "quantitative", "axis": null}
          }
        },
        {
          "data": {"name": "sumratio"},
          "transform": [{"fold": ["HSD", "SSD", "SM", "gA0", "gAq", "corr"], "as": ["model", "r"]}],
          "mark": {"type": "line", "clip": true, "interpolate": "monotone"},
          "encoding": {
            "x": {"field": "x", "type": "quantitative", "axis": null},
            "y": {"field": "r", "type": "quantitative", "axis": null},
            "color": {"field": "model", "type": "nominal", "legend": null},
            "strokeWidth": {"condition": {"test": "datum.model == 'HSD'", "value": 5.5}, "value": 4.5}
          }
        },
        {
          "data": {"name": "sumdash"},
          "transform": [{"fold": ["SSD", "SM", "gA0", "gAq"], "as": ["model", "r"]}],
          "mark": {"type": "line", "clip": true, "interpolate": "monotone", "strokeWidth": 5, "strokeDash": [24, 11]},
          "encoding": {
            "x": {"field": "x", "type": "quantitative", "axis": null},
            "y": {"field": "r", "type": "quantitative", "axis": null},
            "color": {"field": "model", "type": "nominal", "legend": null}
          }
        }
      ]
    },
    {
      "width": 2904,
      "height": 674,
      "data": {"name": "single"},
      "transform": [{"fold": ["HSD", "SSD", "SM", "gA0", "gAq"], "as": ["model", "y"]}],
      "resolve": {"axis": {"x": "independent", "y": "independent"}},
      "layer": [
        {
          "mark": {"type": "line", "clip": true, "interpolate": "monotone", "strokeWidth": 4.5},
          "encoding": {
            "x": {"field": "x", "type": "quantitative", "scale": {"domain": [0, 2.46], "nice": false, "zero": false},
              "axis": {"orient": "bottom", "values": [0, 0.1, 0.2, 0.3, 0.4, 0.5, 0.6, 0.7, 0.8, 0.9, 1, 1.1, 1.2, 1.3, 1.4, 1.5, 1.6, 1.7, 1.8, 1.9, 2, 2.1, 2.2, 2.3, 2.4], "labels": false, "title": null,
                "tickSize": {"expr": "indexof([0,0.5,1,1.5,2], datum.value) >= 0 ? -14 : -8"}}},
            "y": {"field": "y", "type": "quantitative", "scale": {"domain": [0, 1.555], "nice": false},
              "axis": {"orient": "left", "values": [0.1, 0.2, 0.3, 0.4, 0.5, 0.6, 0.7, 0.8, 0.9, 1, 1.1, 1.2, 1.3, 1.4, 1.5],
                "labelExpr": "indexof([0.5,1,1.5], datum.value) >= 0 ? format(datum.value, '.2f') : ''",
                "labelFontSize": {"expr": "indexof([0.5,1,1.5], datum.value) >= 0 ? 52 : 1"},
                "labelPadding": 32, "title": "(dλ/dεsing)/λ", "titlePadding": 14,
                "tickSize": {"expr": "indexof([0.5,1,1.5], datum.value) >= 0 ? -14 : -8"}}},
            "color": {"field": "model", "type": "nominal", "legend": null}
          }
        },
        {
          "mark": {"type": "point", "opacity": 0, "size": 0},
          "encoding": {
            "x": {"field": "x", "type": "quantitative",
              "axis": {"orient": "top", "values": [0, 0.1, 0.2, 0.3, 0.4, 0.5, 0.6, 0.7, 0.8, 0.9, 1, 1.1, 1.2, 1.3, 1.4, 1.5, 1.6, 1.7, 1.8, 1.9, 2, 2.1, 2.2, 2.3, 2.4], "labels": false, "title": null,
                "tickSize": {"expr": "indexof([0,0.5,1,1.5,2], datum.value) >= 0 ? -14 : -8"}}},
            "y": {"field": "y", "type": "quantitative",
              "axis": {"orient": "right", "values": [0.1, 0.2, 0.3, 0.4, 0.5, 0.6, 0.7, 0.8, 0.9, 1, 1.1, 1.2, 1.3, 1.4, 1.5], "labels": false, "title": null,
                "tickSize": {"expr": "indexof([0.5,1,1.5], datum.value) >= 0 ? -14 : -8"}}}
          }
        }
      ]
    },
    {
      "width": 2904,
      "height": 337,
      "resolve": {"axis": {"x": "independent", "y": "independent"}},
      "layer": [
        {
          "data": {"name": "singleratio"},
          "transform": [{"fold": ["HSD", "SSD", "SM", "gA0", "gAq"], "as": ["model", "r"]}],
          "mark": {"type": "line", "clip": true, "interpolate": "monotone"},
          "encoding": {
            "x": {"field": "x", "type": "quantitative", "scale": {"domain": [0, 2.46], "nice": false, "zero": false},
              "axis": {"orient": "bottom", "values": [0, 0.1, 0.2, 0.3, 0.4, 0.5, 0.6, 0.7, 0.8, 0.9, 1, 1.1, 1.2, 1.3, 1.4, 1.5, 1.6, 1.7, 1.8, 1.9, 2, 2.1, 2.2, 2.3, 2.4],
                "labelExpr": "indexof([0,0.5,1,1.5,2], datum.value) >= 0 ? format(datum.value, '.1f') : ''",
                "labelPadding": 36, "title": "ε (MeV)", "titlePadding": -14, "titleFontSize": 72,
                "tickSize": {"expr": "indexof([0,0.5,1,1.5,2], datum.value) >= 0 ? -14 : -8"}}},
            "y": {"field": "r", "type": "quantitative", "scale": {"domain": [0.9496, 1.2507], "nice": false, "zero": false},
              "axis": {"orient": "left", "values": [1, 1.05, 1.1, 1.15, 1.2],
                "labelExpr": "indexof([1,1.2], datum.value) >= 0 ? format(datum.value, '.2f') : ''",
                "labelFontSize": {"expr": "indexof([1,1.2], datum.value) >= 0 ? 52 : 1"},
                "labelPadding": 32, "title": "rHSD", "titlePadding": 14,
                "tickSize": {"expr": "indexof([1,1.2], datum.value) >= 0 ? -14 : -8"}}},
            "color": {"field": "model", "type": "nominal", "legend": null},
            "strokeWidth": {"condition": {"test": "datum.model == 'HSD'", "value": 5.5}, "value": 4.5}
          }
        },
        {
          "data": {"name": "singledash"},
          "transform": [{"fold": ["SSD", "SM", "gA0", "gAq"], "as": ["model", "r"]}],
          "mark": {"type": "line", "clip": true, "interpolate": "monotone", "strokeWidth": 5, "strokeDash": [24, 11]},
          "encoding": {
            "x": {"field": "x", "type": "quantitative",
              "axis": {"orient": "top", "values": [0, 0.1, 0.2, 0.3, 0.4, 0.5, 0.6, 0.7, 0.8, 0.9, 1, 1.1, 1.2, 1.3, 1.4, 1.5, 1.6, 1.7, 1.8, 1.9, 2, 2.1, 2.2, 2.3, 2.4], "labels": false, "title": null,
                "tickSize": {"expr": "indexof([0,0.5,1,1.5,2], datum.value) >= 0 ? -14 : -8"}}},
            "y": {"field": "r", "type": "quantitative",
              "axis": {"orient": "right", "values": [1, 1.05, 1.1, 1.15, 1.2], "labels": false, "title": null,
                "tickSize": {"expr": "indexof([1,1.2], datum.value) >= 0 ? -14 : -8"}}},
            "color": {"field": "model", "type": "nominal", "legend": null}
          }
        }
      ]
    }
  ],
  "spacing": 0,
  "bounds": "flush",
  "resolve": {"legend": {"color": "independent"}},
  "config": {
    "view": {"stroke": null},
    "font": "DejaVu Sans",
    "axis": {
      "grid": false, "domain": true, "domainColor": "black", "domainWidth": 3.5,
      "tickColor": "black", "tickWidth": 2.5, "minExtent": 0,
      "labelFont": "DejaVu Sans", "labelFontSize": 52, "labelColor": "black",
      "labelFlush": false, "labelOverlap": false,
      "titleFont": "DejaVu Sans", "titleFontSize": 78, "titleFontWeight": "normal", "titleColor": "black",
      "zindex": 1
    },
    "legend": {
      "symbolType": "M-1.18,0H1.18", "symbolStrokeWidth": 5, "symbolSize": 7700,
      "labelFont": "DejaVu Sans", "labelFontSize": 52, "labelColor": "black", "labelLimit": 0, "labelOffset": 38,
      "rowPadding": 0, "padding": 16, "fillColor": "white", "strokeColor": "#cccccc", "strokeWidth": 3, "cornerRadius": 10
    }
  }
}
